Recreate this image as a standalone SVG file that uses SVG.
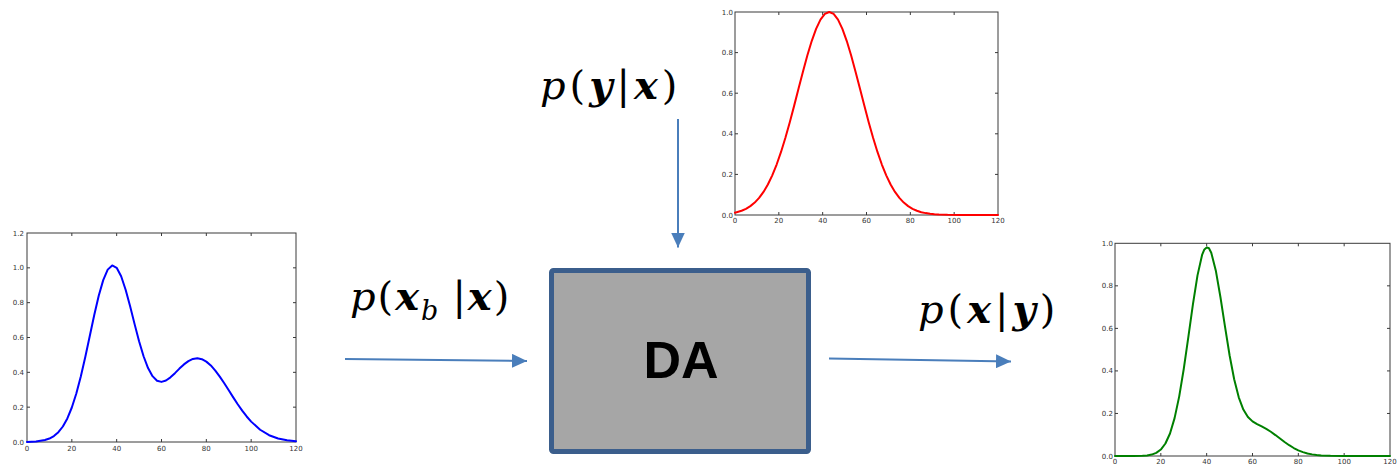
<svg xmlns="http://www.w3.org/2000/svg" width="1398" height="466" viewBox="0 0 1398 466">
<defs>
<style>
.frame{fill:none;stroke:#3a3a3a;stroke-width:1}
.tick{fill:none;stroke:#3a3a3a;stroke-width:1}
.tl{font-family:"DejaVu Sans",sans-serif;font-size:7px;fill:#333}
.ty{text-anchor:end}
.tx{text-anchor:middle}
.curve{fill:none;stroke-width:2;stroke-linejoin:round;stroke-linecap:round}
.m{font-family:"DejaVu Serif",serif;font-size:40px;fill:#000}
.it{font-style:italic}
.bi{font-style:italic;font-weight:bold}
.conn{fill:none;stroke:#4a7ebb;stroke-width:2}
</style>
<marker id="ah" viewBox="0 0 15 14" refX="15" refY="7" markerWidth="15" markerHeight="14" markerUnits="userSpaceOnUse" orient="auto">
<path d="M0 0L15 7L0 14Z" fill="#4a7ebb"/>
</marker>
</defs>
<rect width="1398" height="466" fill="#fff"/>

<g id="plot-prior">
<rect class="frame" x="27" y="233" width="269" height="209"/>
<path class="tick" d="M71.83 442v-3M116.67 442v-3M161.5 442v-3M206.33 442v-3M251.17 442v-3M71.83 233v3M116.67 233v3M161.5 233v3M206.33 233v3M251.17 233v3M27 407.17h3M27 372.33h3M27 337.5h3M27 302.67h3M27 267.83h3M296 407.17h-3M296 372.33h-3M296 337.5h-3M296 302.67h-3M296 267.83h-3"/>
<g class="tl ty">
<text x="24" y="444.5">0.0</text><text x="24" y="409.7">0.2</text><text x="24" y="374.8">0.4</text><text x="24" y="340">0.6</text><text x="24" y="305.2">0.8</text><text x="24" y="270.3">1.0</text><text x="24" y="235.5">1.2</text>
</g>
<g class="tl tx">
<text x="27" y="450.5">0</text><text x="71.83" y="450.5">20</text><text x="116.67" y="450.5">40</text><text x="161.5" y="450.5">60</text><text x="206.33" y="450.5">80</text><text x="251.17" y="450.5">100</text><text x="296" y="450.5">120</text>
</g>
<polyline class="curve" stroke="#0000ff" points="27,441.88 35.97,441.46 44.93,440.07 49.42,438.55 53.9,436.08 58.38,432.23 62.87,426.5 67.35,418.42 71.83,407.5 76.32,393.51 80.8,376.53 85.28,357.04 89.77,336.07 94.25,315.06 98.73,295.78 103.22,280.11 107.7,269.62 112.18,265.41 116.67,267.79 121.15,276.3 125.63,289.72 130.12,306.32 134.6,324.12 139.08,341.26 143.57,356.26 148.05,368.05 152.53,376.15 157.02,380.69 161.5,381.88 165.98,380.5 170.47,377.35 174.95,373.15 179.43,368.6 183.92,364.41 188.4,361.08 192.88,358.96 197.37,358.28 201.85,359.17 206.33,361.62 210.82,365.45 215.3,370.54 219.78,376.6 224.27,383.27 228.75,390.27 233.23,397.36 237.72,404.26 242.2,410.61 246.68,416.47 251.17,421.62 260.13,429.76 269.1,435.21 278.07,438.52 287.03,440.35 296,441.27"/>
</g>

<g id="plot-likelihood">
<rect class="frame" x="735" y="12" width="263" height="203"/>
<path class="tick" d="M778.83 215v-3M822.67 215v-3M866.5 215v-3M910.33 215v-3M954.17 215v-3M778.83 12v3M822.67 12v3M866.5 12v3M910.33 12v3M954.17 12v3M735 174.4h3M735 133.8h3M735 93.2h3M735 52.6h3M998 174.4h-3M998 133.8h-3M998 93.2h-3M998 52.6h-3"/>
<g class="tl ty">
<text x="733" y="217.5">0.0</text><text x="733" y="176.9">0.2</text><text x="733" y="136.3">0.4</text><text x="733" y="95.7">0.6</text><text x="733" y="55.1">0.8</text><text x="733" y="14.5">1.0</text>
</g>
<g class="tl tx">
<text x="735" y="223">0</text><text x="778.83" y="223">20</text><text x="822.67" y="223">40</text><text x="866.5" y="223">60</text><text x="910.33" y="223">80</text><text x="954.17" y="223">100</text><text x="998" y="223">120</text>
</g>
<polyline class="curve" stroke="#ff0000" points="735,212.67 741.58,210.74 745.96,208.79 750.34,206.13 754.73,202.56 759.11,197.89 763.49,191.92 767.88,184.45 772.26,175.33 776.64,164.51 781.03,151.95 785.41,137.76 789.79,122.19 794.18,105.62 798.56,88.55 802.94,71.64 807.33,55.56 811.71,41.07 816.09,28.91 820.48,19.69 824.86,13.95 829.24,12 833.63,13.95 838.01,19.69 842.39,28.91 846.78,41.07 851.16,55.56 855.54,71.64 859.93,88.55 864.31,105.62 868.69,122.19 873.08,137.76 877.46,151.95 881.84,164.51 886.23,175.33 890.61,184.45 894.99,191.92 899.38,197.89 903.76,202.56 908.14,206.13 912.53,208.79 916.91,210.74 921.29,212.25 925.68,213.11 930.06,213.78 934.44,214.23 938.83,214.51 947.59,214.82 960.74,214.96 998,215"/>
</g>

<g id="plot-posterior">
<rect class="frame" x="1115" y="243.3" width="275" height="212.7"/>
<path class="tick" d="M1160.83 456v-3M1206.67 456v-3M1252.5 456v-3M1298.33 456v-3M1344.17 456v-3M1160.83 243.3v3M1206.67 243.3v3M1252.5 243.3v3M1298.33 243.3v3M1344.17 243.3v3M1115 413.46h3M1115 370.92h3M1115 328.38h3M1115 285.84h3M1390 413.46h-3M1390 370.92h-3M1390 328.38h-3M1390 285.84h-3"/>
<g class="tl ty">
<text x="1113" y="458.5">0.0</text><text x="1113" y="416">0.2</text><text x="1113" y="373.4">0.4</text><text x="1113" y="330.9">0.6</text><text x="1113" y="288.3">0.8</text><text x="1113" y="245.8">1.0</text>
</g>
<g class="tl tx">
<text x="1115" y="463.5">0</text><text x="1160.83" y="463.5">20</text><text x="1206.67" y="463.5">40</text><text x="1252.5" y="463.5">60</text><text x="1298.33" y="463.5">80</text><text x="1344.17" y="463.5">100</text><text x="1390" y="463.5">120</text>
</g>
<polyline class="curve" stroke="#008000" points="1115,456 1133.33,455.98 1142.5,455.77 1147.08,455.4 1151.67,454.6 1156.25,452.87 1160.83,449.53 1165.42,443.51 1170,433.5 1174.58,418.16 1179.17,396.61 1183.75,369.03 1188.33,337.12 1192.92,304.37 1197.5,275.4 1202.08,254.98 1204.38,249.4 1206.67,247.4 1208.96,248.28 1211.25,252.7 1215.83,270.69 1220.42,296.96 1225,326.66 1229.58,355.22 1234.17,379.28 1238.75,397.36 1243.33,409.53 1247.92,417.01 1252.5,421.39 1257.08,424.16 1261.67,426.46 1266.25,428.9 1270.83,431.77 1275.42,435.07 1280,438.56 1284.58,442.03 1289.17,445.22 1293.75,448.02 1298.33,450.32 1302.92,452.11 1307.5,453.45 1312.08,454.38 1316.67,455.02 1321.25,455.43 1330.42,455.83 1344.17,455.98 1390,456"/>
</g>

<g id="node-da">
<rect x="551.5" y="270.5" width="257" height="181" rx="2" fill="#a6a6a6" stroke="#3b5e8c" stroke-width="5"/>
<text x="681" y="378" text-anchor="middle" font-family="Liberation Sans, Arial, sans-serif" font-weight="bold" font-size="52" fill="#000">DA</text>
</g>

<g id="label-likelihood" class="m">
<text x="540" y="99" letter-spacing="4"><tspan class="it">p</tspan>(<tspan class="bi">y</tspan>|<tspan class="bi">x</tspan>)</text>
</g>
<g id="label-background" class="m">
<text x="350" y="310" letter-spacing="2"><tspan class="it">p</tspan>(<tspan class="bi">x</tspan><tspan class="it" dy="10" font-size="27">b</tspan><tspan dx="12" dy="-10">|</tspan><tspan class="bi">x</tspan>)</text>
</g>
<g id="label-posterior" class="m">
<text x="918" y="323" letter-spacing="4"><tspan class="it">p</tspan>(<tspan class="bi">x</tspan>|<tspan class="bi">y</tspan>)</text>
</g>

<g id="connectors">
<line class="conn" x1="345" y1="359" x2="527" y2="361" marker-end="url(#ah)"/>
<line class="conn" x1="678" y1="119" x2="678" y2="247.5" marker-end="url(#ah)"/>
<line class="conn" x1="829" y1="358.5" x2="1011" y2="361.5" marker-end="url(#ah)"/>
</g>
</svg>
